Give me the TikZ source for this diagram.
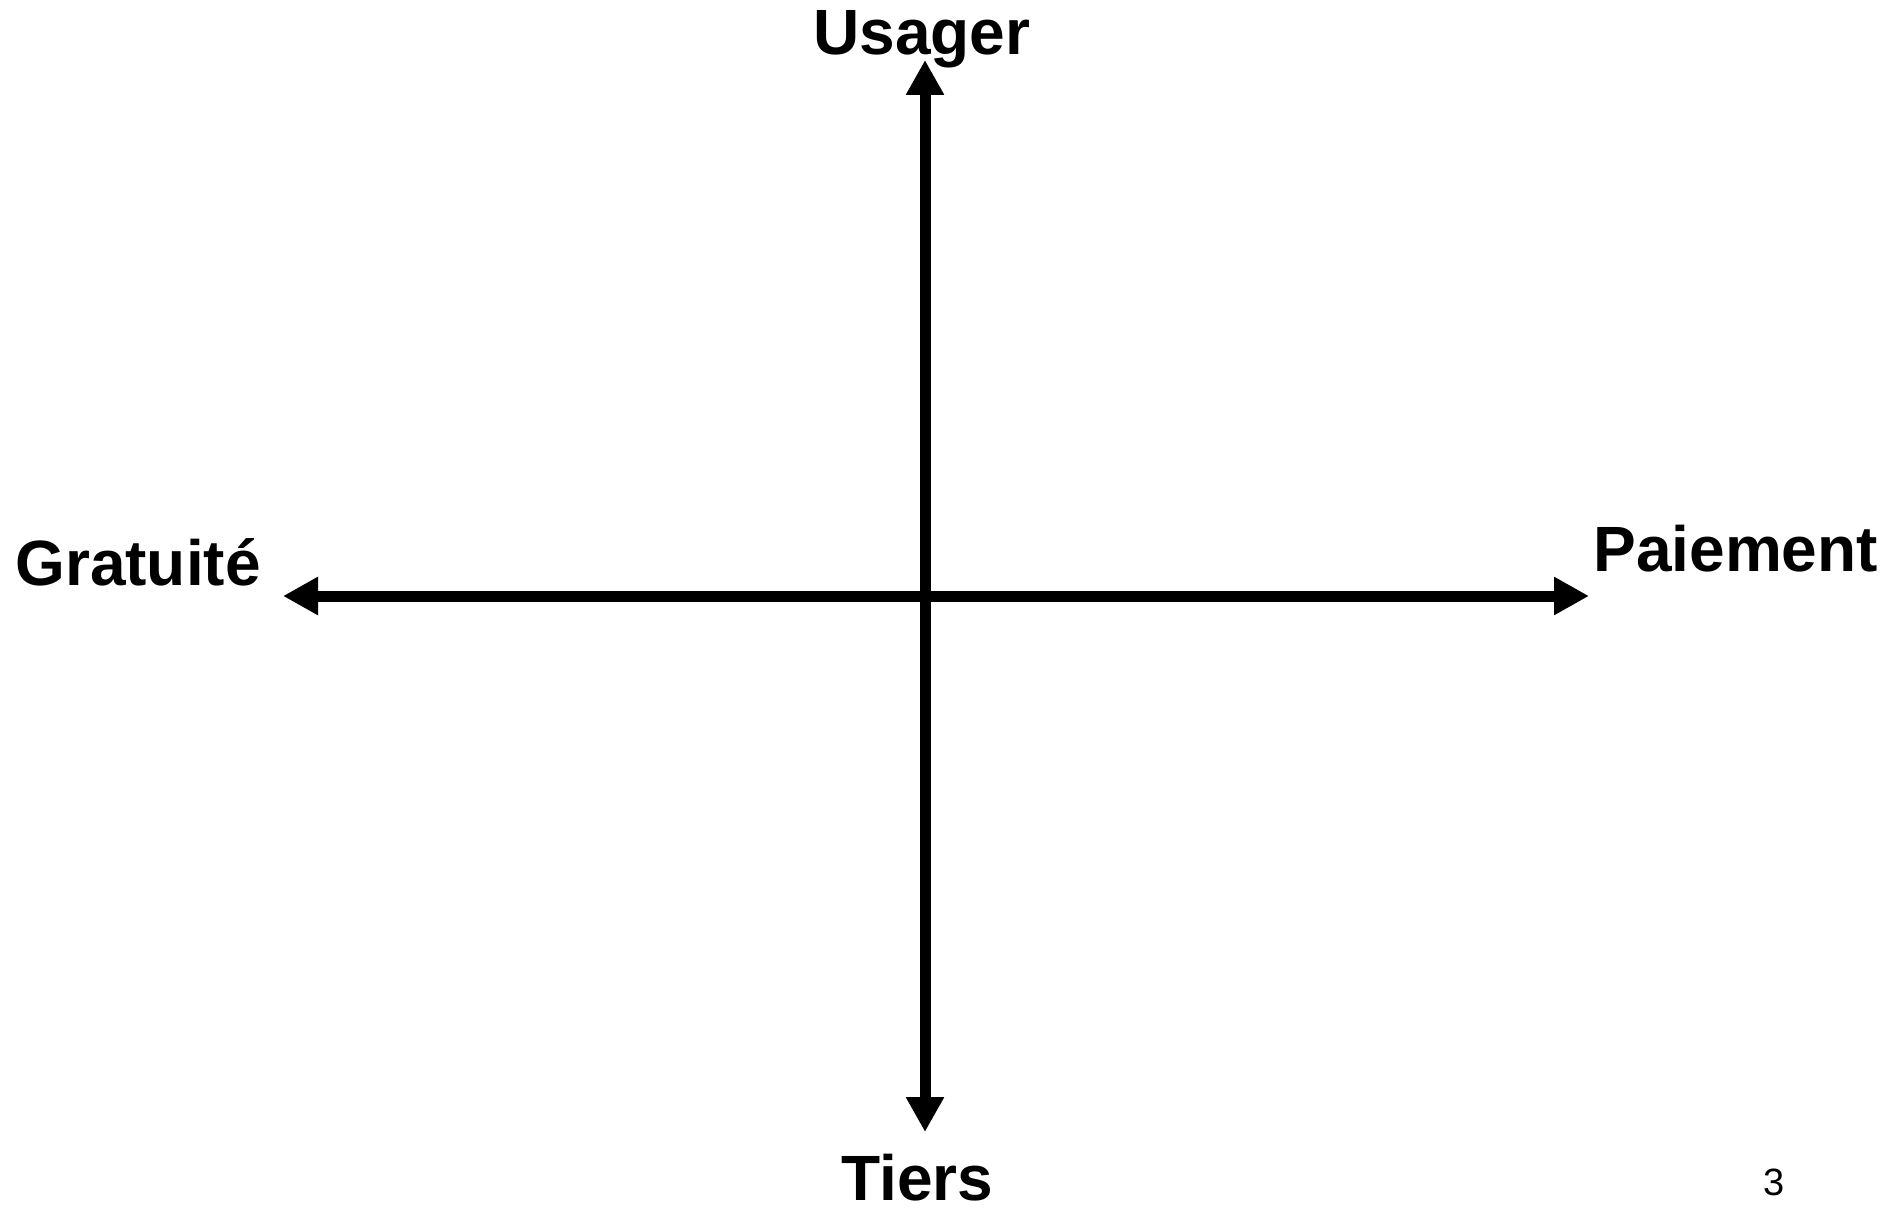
\documentclass[tikz,border=0pt]{standalone}
\usepackage{fontspec}
\setmainfont{Liberation Sans}
\usetikzlibrary{arrows.meta}
\begin{document}
\begin{tikzpicture}[x=0.5pt,y=-0.5pt,
  axis/.style={line width=5.5pt,{Triangle[length=17.5pt,width=18pt]}-{Triangle[length=17.5pt,width=18pt]}},
  lbl/.style={inner sep=0pt,font=\fontsize{32}{37}\selectfont\bfseries},
  pagenum/.style={inner sep=0pt,font=\fontsize{19}{22}\selectfont}]
\useasboundingbox[fill=white] (0,0) rectangle (1887,1209);
\coordinate (top) at (925,60);
\coordinate (bottom) at (925,1132);
\coordinate (left) at (283,596);
\coordinate (right) at (1589,596);
\draw[axis] (bottom) -- (top);
\draw[axis] (left) -- (right);
\node[lbl,anchor=base] (usager) at (922,55) {Usager};
\node[lbl,anchor=base west] (gratuite) at (15,585) {Gratuité};
\node[lbl,anchor=base west] (paiement) at (1593,571) {Paiement};
\node[lbl,anchor=base west] (tiers) at (841,1200) {Tiers};
\node[pagenum,anchor=base west] (num) at (1763,1195) {3};
\end{tikzpicture}
\end{document}
